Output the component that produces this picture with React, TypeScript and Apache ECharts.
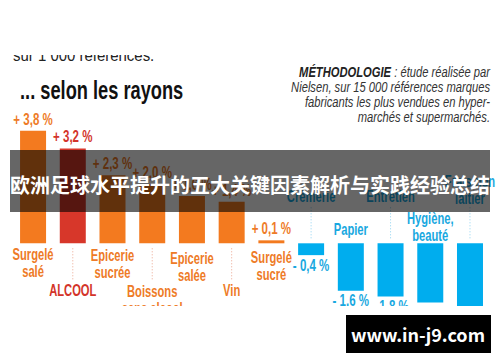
import React, { useEffect, useRef } from 'react';
import * as echarts from 'echarts';

// ---- data ----
const categories = [
  'Surgelé\nsalé', 'ALCOOL', 'Epicerie\nsucrée', 'Boissons\nsans alcool', 'Epicerie\nsalée', 'Vin',
  'Surgelé\nsucré', 'Crèmerie', 'Papier', 'Entretien', 'Hygiène,\nbeauté', 'Frais non\nlaitier',
];
const values = [3.8, 3.2, 2.3, 2.0, 1.6, 1.4, 0.1, -0.4, -1.6, -1.8, -2.0, -2.3];
const highlightCategory = 'ALCOOL';
const subtitleText = 'sur 1 000 références.';
const titleText = '... selon les rayons';
const methodLines = [
  'étude réalisée par',
  'Nielsen, sur 15 000 références marques',
  'fabricants les plus vendues en hyper-',
  'marchés et supermarchés.',
];
const methodHead = 'MÉTHODOLOGIE';
const bannerText = '欧洲足球水平提升的五大关键因素解析与实践经验总结';
const watermarkText = 'www.in-j9.com';

// ---- styles ----
const ORANGE = '#F37A1F';
const RED = '#D7372A';
const BLUE = '#00ADEE';
const T_ORANGE = '#EE7B27';
const T_RED = '#D3342A';
const T_BLUE = '#19A8E0';
const SANS = '"Liberation Sans", Arial, sans-serif';

// label center offset from the zero line (px) and optional dotted leader
const labelLayout: { dy: number; lead?: [number, number] }[] = [
  { dy: 19 }, { dy: 47, lead: [5, 38] }, { dy: 20 }, { dy: 56, lead: [5, 38] }, { dy: 23 },
  { dy: 47, lead: [5, 38] }, { dy: 22 }, { dy: -47, lead: [-36, -5] }, { dy: -14 },
  { dy: -47, lead: [-36, -5] }, { dy: -17 }, { dy: -54, lead: [-36, -5] },
];

const fmt = (v: number) => (v >= 0 ? '+ ' : '- ') + Math.abs(v).toFixed(1).replace('.', ',') + ' %';

function txt(x: number, y: number, text: string, o: any = {}) {
  return {
    type: 'text',
    x,
    y,
    scaleX: o.scaleX ?? 1,
    z: o.z ?? 20,
    style: {
      x: 0,
      y: 0,
      text,
      textAlign: o.align ?? 'center',
      textVerticalAlign: o.valign ?? 'middle',
      fill: o.fill ?? '#222',
      fontFamily: o.family ?? SANS,
      fontSize: o.size ?? 14,
      fontWeight: o.weight ?? 'bold',
      fontStyle: o.italic ? 'italic' : 'normal',
      lineHeight: o.lineHeight ?? (o.size ?? 14) + 2,
      rich: o.rich,
    },
  };
}

export default function App() {
  const ref = useRef<HTMLDivElement>(null);
  useEffect(() => {
    const chart = echarts.init(ref.current!, null, { renderer: 'svg' });
    const colorOf = (i: number) =>
      categories[i] === highlightCategory ? RED : values[i] >= 0 ? ORANGE : BLUE;
    const textColorOf = (i: number) =>
      categories[i] === highlightCategory ? T_RED : values[i] >= 0 ? T_ORANGE : T_BLUE;
    chart.setOption({
      animation: false,
      backgroundColor: '#ffffff',
      grid: { left: 13.2, right: 10.15, top: 95.3, height: 236.8 },
      xAxis: { type: 'category', data: categories, show: false, boundaryGap: true },
      yAxis: { type: 'value', min: -3, max: 5, show: false, splitLine: { show: false } },
      series: [
        {
          type: 'bar',
          barWidth: 26,
          data: values.map((v, i) => ({ value: v, itemStyle: { color: colorOf(i) } })),
        },
      ],
    });
    const y0 = chart.convertToPixel({ yAxisIndex: 0 }, 0) as number;
    const gfx: any[] = [];
    values.forEach((v, i) => {
      const cx = chart.convertToPixel({ xAxisIndex: 0 }, i) as number;
      const cy = chart.convertToPixel({ yAxisIndex: 0 }, v) as number;
      const col = textColorOf(i);
      // value label
      gfx.push(
        txt(cx, v >= 0 ? cy - 12 : cy + 10, fmt(v), { fill: col, size: 16, scaleX: 0.72 })
      );
      // category label
      const lay = labelLayout[i];
      gfx.push(
        txt(cx, y0 + lay.dy, categories[i], { fill: col, size: 16, lineHeight: 17, scaleX: 0.7 })
      );
      if (lay.lead) {
        gfx.push({
          type: 'line',
          z: 15,
          shape: { x1: cx, y1: y0 + lay.lead[0], x2: cx, y2: y0 + lay.lead[1] },
          style: { stroke: v >= 0 ? '#EBA58E' : '#8ED2F0', lineWidth: 1, lineDash: [1, 2] },
        });
      }
      if (categories[i] === highlightCategory) {
        gfx.push({ type: 'circle', z: 15, shape: { cx: cx - 1, cy: y0 + 70, r: 8 }, style: { fill: RED } });
      }
    });
    // titles
    gfx.push(txt(13, 65, subtitleText, { align: 'left', valign: 'bottom', weight: 'normal', size: 17, scaleX: 0.88, fill: '#222' }));
    gfx.push({ type: 'rect', z: 30, shape: { x: 0, y: 0, width: 500, height: 55 }, style: { fill: '#fff' } });
    gfx.push(txt(20, 90, titleText, { align: 'left', size: 25, scaleX: 0.73, fill: '#111' }));
    // methodology block
    methodLines.forEach((l, k) => {
      if (k === 0) {
        gfx.push(
          txt(490, 73, `{h|${methodHead}} : ${l}`, {
            align: 'right', weight: 'normal', italic: true, size: 14, scaleX: 0.8, fill: '#333',
            rich: { h: { fontWeight: 'bold', fontStyle: 'italic', fontSize: 14, fontFamily: SANS, fill: '#222' } },
          })
        );
      } else {
        gfx.push(txt(490, 73 + k * 14.7, l, { align: 'right', weight: 'normal', italic: true, size: 14, scaleX: 0.8, fill: '#333' }));
      }
    });
    // photo bottom cut
    gfx.push({ type: 'rect', z: 90, shape: { x: 0, y: 306, width: 500, height: 56 }, style: { fill: '#fff' } });
    // banner
    gfx.push({ type: 'rect', z: 95, shape: { x: 10, y: 150, width: 480, height: 62 }, style: { fill: 'rgba(0,0,0,0.6)' } });
    gfx.push(txt(250, 184, bannerText, { z: 96, size: 20, fill: '#fff', family: '"Noto Sans CJK SC", sans-serif' }));
    // watermark box
    gfx.push({ type: 'rect', z: 95, shape: { x: 346, y: 315, width: 145, height: 38 }, style: { fill: '#000' } });
    gfx.push(txt(418, 334, watermarkText, { z: 96, size: 18, fill: '#fff', family: '"Noto Sans CJK SC", "Noto Sans", sans-serif' }));
    chart.setOption({ graphic: gfx });
    return () => chart.dispose();
  }, []);
  return (
    <div
      ref={ref}
      style={{ position: 'absolute', left: 0, top: 0, width: 500, height: 362, background: '#fff' }}
    />
  );
}
